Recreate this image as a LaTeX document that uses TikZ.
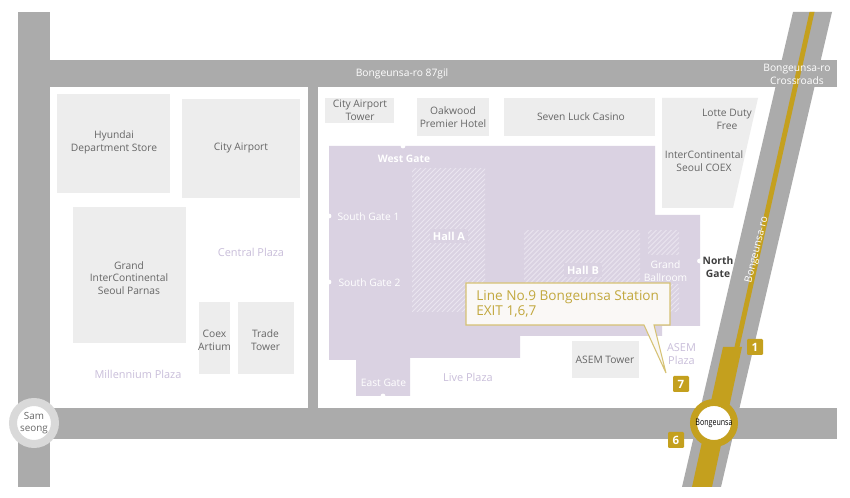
\documentclass[tikz,border=0pt]{standalone}
\usepackage{fontspec}
\setmainfont{Open Sans}
\definecolor{road}{HTML}{ABABAB}
\definecolor{bldg}{HTML}{EDEDED}
\definecolor{coex}{HTML}{DAD2E2}
\definecolor{hatchc}{HTML}{EAE5EF}
\definecolor{gold}{HTML}{C4A01E}
\definecolor{calltxt}{HTML}{C2A83E}
\definecolor{callbd}{HTML}{D6C274}
\definecolor{callbg}{HTML}{FAF8F6}
\definecolor{plaza}{HTML}{C9BEDA}
\definecolor{btxt}{HTML}{666666}
\tikzset{
  x=0.75pt,y=-0.75pt,
  base/.style={align=center,inner sep=0pt,font=\fontsize{7.7}{9.6}\selectfont},
  bname/.style={base,text=btxt},
  plazaname/.style={base,text=plaza,font=\fontsize{8.2}{9.8}\selectfont},
  gatename/.style={base,text=white},
  hallname/.style={base,text=white,fill=coex,inner sep=2pt,font=\fontsize{8.2}{9.8}\bfseries\selectfont},
  roadname/.style={base,text=white},
  badge/.style={fill=gold,text=white,rounded corners=0.8pt,minimum size=12pt,inner sep=0pt,font=\fontsize{8.6}{9}\bfseries\selectfont},
  gatedot/.style={circle,fill=white,inner sep=0pt,minimum size=3.6pt},
  hatchline/.style={draw=hatchc,line width=0.75pt}
}
\newcommand{\hatchbox}[4]{%
  \begin{scope}
    \clip (#1,#2) rectangle (#3,#4);
    \foreach \d in {-260,-255,...,260}
      \draw[hatchline] ({(#1+#3)/2+\d-100},{(#2+#4)/2+100}) -- ({(#1+#3)/2+\d+100},{(#2+#4)/2-100});
  \end{scope}}
\begin{document}
\begin{tikzpicture}
\useasboundingbox[fill=white] (0,0) rectangle (850,498);
% roads
\fill[road] (18,12) rectangle (50,487);
\fill[road] (50,60) rectangle (837,87);
\fill[road] (50,408) rectangle (837,439);
\fill[road] (308,87) rectangle (318,408);
\fill[road] (793,12) -- (832,12) -- (721,487) -- (682,487) -- cycle;
% subway
\fill[gold] (809.5,12) -- (814.5,12) -- (739.5,347) -- (734.5,347) -- cycle;
\fill[gold] (723,347) -- (742,347) -- (712,487) -- (692,487) -- cycle;
% buildings
\fill[bldg] (57,94) rectangle (170,193);
\fill[bldg] (182,99) rectangle (300,198);
\fill[bldg] (73,207) rectangle (186,343);
\fill[bldg] (199,302) rectangle (230,374);
\fill[bldg] (238,302) rectangle (294,374);
\fill[bldg] (325,98) rectangle (394,123);
\fill[bldg] (417,98) rectangle (489,136);
\fill[bldg] (504,98) rectangle (655,136);
\fill[bldg] (662,98) -- (758,98) -- (733,208) -- (662,208) -- cycle;
\fill[bldg] (572,341) rectangle (639,378);
% COEX
\fill[coex] (329,146) -- (655,146) -- (655,215) -- (700,215) -- (700,326) -- (662,326)
  -- (662,336) -- (520,336) -- (520,358) -- (410,358) -- (410,396) -- (356,396)
  -- (356,360) -- (329,360) -- cycle;
\hatchbox{412}{169}{485}{312}
\hatchbox{524}{231}{640}{312}
\hatchbox{648}{231}{679}{255}
\hatchbox{648}{285}{679}{312}
% gate dots
\node[gatedot] (gw) at (403,146) {};
\node[gatedot] (gs1) at (329,216) {};
\node[gatedot] (gs2) at (329,282) {};
\node[gatedot] (ge) at (383,396) {};
\node[gatedot] (gn) at (699.5,261) {};
% building names
\node[bname] (n1) at (114,142) {Hyundai\\Department Store};
\node[bname] (n2) at (241,148) {City Airport};
\node[bname] (n3) at (129,278) {Grand\\InterContinental\\Seoul Parnas};
\node[bname] (n4) at (214.5,340) {Coex\\Artium};
\node[bname] (n5) at (265.5,340) {Trade\\Tower};
\node[bname] (n6) at (360,110.5) {City Airport\\Tower};
\node[bname] (n7) at (453,117) {Oakwood\\Premier Hotel};
\node[bname] (n8) at (581,117) {Seven Luck Casino};
\node[bname] (n9) at (727,119) {Lotte Duty\\Free};
\node[bname] (n10) at (704,161) {InterContinental\\Seoul COEX};
\node[bname] (n11) at (605,360) {ASEM Tower};
% plazas
\node[plazaname] (p1) at (251,252) {Central Plaza};
\node[plazaname] (p2) at (138,374) {Millennium Plaza};
\node[plazaname] (p3) at (468,377) {Live Plaza};
\node[plazaname] (p4) at (681.5,354) {ASEM\\Plaza};
% gates and halls
\node[gatename,font=\fontsize{7.7}{9.6}\bfseries\selectfont] (t1) at (404,158.5) {West Gate};
\node[gatename] (t2) at (368.5,216.5) {South Gate 1};
\node[gatename] (t3) at (369.5,282.5) {South Gate 2};
\node[gatename] (t4) at (383.5,383) {East Gate};
\node[hallname] (h1) at (449,236) {Hall A};
\node[hallname] (h2) at (583,270) {Hall B};
\node[hallname,font=\fontsize{7.7}{9.6}\selectfont] (h3) at (665.5,271) {Grand\\Ballroom};
\node[base,text=black!75,font=\fontsize{7.7}{9.6}\bfseries\selectfont] (t5) at (718,267) {North\\Gate};
% road names
\node[roadname] (r1) at (402,73.5) {Bongeunsa-ro 87gil};
\node[roadname] (r2) at (797,74) {Bongeunsa-ro\\Crossroads};
\node[roadname,rotate=76] (r3) at (757,250) {Bongeunsa-ro};
% callout
\draw[draw=callbd,fill=callbg,line width=0.8pt] (466,283) -- (670,283) -- (670,325) -- (654,325)
  -- (666,373) -- (644,325) -- (466,325) -- cycle;
\node[base,anchor=west,align=left,text=calltxt,font=\fontsize{10.2}{11.4}\selectfont] (c1) at (476,303.5) {Line No.9 Bongeunsa Station\\EXIT 1,6,7};
% stations
\node[circle,draw=gold,line width=5.2pt,fill=white,minimum size=30.8pt,inner sep=0pt] (st1) at (714,423) {};
\node[inner sep=0pt,text=black,xscale=0.78,font=\fontsize{6.8}{8}\selectfont] (st1t) at (st1) {Bongeunsa};
\node[circle,draw=black!15,line width=6pt,fill=white,minimum size=31.5pt,inner sep=0pt] (st2) at (34,423) {};
\node[base,text=btxt,font=\fontsize{7.4}{9}\selectfont] (st2t) at (st2) {Sam\\seong};
% exits
\node[badge] (x1) at (755,347) {1};
\node[badge] (x7) at (681,384) {7};
\node[badge] (x6) at (676,440) {6};
\end{tikzpicture}
\end{document}
